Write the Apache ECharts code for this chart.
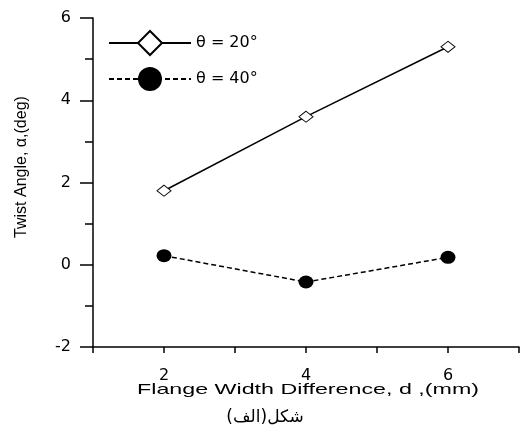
<!DOCTYPE html>
<html>
<head>
<meta charset="utf-8">
<script src="https://cdn.jsdelivr.net/npm/echarts@6/dist/echarts.min.js"></script>
<style>html,body{margin:0;padding:0;background:#fff}#chart{width:522px;height:432px}</style>
</head>
<body>
<div id="chart"></div>
<script>
const seriesNames = ['θ = 20°', 'θ = 40°'];
const xValues = [2, 4, 6];
const theta20 = [1.8, 3.6, 5.3];
const theta40 = [0.22, -0.42, 0.18];
const xTickLabels = ['2', '4', '6'];
const yTickLabels = ['-2', '0', '2', '4', '6'];
const xTitle = 'Flange Width Difference, d ,(mm)';
const yTitle = 'Twist Angle, α,(deg)';
const caption = 'شکل(الف)';

const chart = echarts.init(document.getElementById('chart'));
const pair = (ys) => xValues.map((x, i) => [x, ys[i]]);
const black = '#000';
const tickFont = 'DejaVu Sans';

chart.setOption({
  animation: false,
  backgroundColor: '#fff',
  grid: { left: 93, top: 18, width: 430, height: 329, containLabel: false },
  xAxis: {
    type: 'value', min: 1, max: 7, interval: 1,
    axisLine: { show: true, onZero: false, lineStyle: { color: black, width: 1.5 } },
    axisTick: { show: true, length: 6, lineStyle: { color: black, width: 1.5 } },
    axisLabel: {
      color: black, fontSize: 16, fontFamily: tickFont, margin: 21,
      formatter: (v) => xTickLabels.includes(String(v)) ? String(v) : ''
    },
    splitLine: { show: false }
  },
  yAxis: {
    type: 'value', min: -2, max: 6, interval: 2,
    axisLine: { show: true, onZero: false, lineStyle: { color: black, width: 1.5 } },
    axisTick: { show: true, length: 13, lineStyle: { color: black, width: 1.5 } },
    minorTick: { show: true, splitNumber: 2, length: 8, lineStyle: { color: black, width: 1.5 } },
    axisLabel: {
      color: black, fontSize: 16, fontFamily: tickFont, margin: 22,
      formatter: (v) => yTickLabels.includes(String(v)) ? String(v) : ''
    },
    splitLine: { show: false }
  },
  legend: {
    orient: 'vertical', left: 108, top: 30, padding: 0,
    itemWidth: 82, itemHeight: 30, itemGap: 11,
    textStyle: { color: black, fontSize: 16, fontFamily: tickFont },
    data: seriesNames
  },
  series: [
    {
      name: seriesNames[0], type: 'line', data: pair(theta20),
      symbol: 'diamond', symbolSize: [14, 11],
      itemStyle: { color: '#fff', borderColor: black, borderWidth: 1 },
      lineStyle: { color: black, width: 1.5 }
    },
    {
      name: seriesNames[1], type: 'line', data: pair(theta40),
      symbol: 'circle', symbolSize: [15, 13],
      itemStyle: { color: black, borderColor: black, borderWidth: 0 },
      lineStyle: { color: black, width: 1.5, type: [5, 3] }
    }
  ],
  graphic: [
    {
      type: 'text', x: 22, y: 167, rotation: Math.PI / 2,
      style: { text: yTitle, fill: black, font: '16px "Liberation Sans", Arial, sans-serif', align: 'center', verticalAlign: 'middle' }
    },
    {
      type: 'text', x: 308, y: 390, scaleX: 1.55,
      style: { text: xTitle, fill: black, font: '15px "Liberation Sans", Arial, sans-serif', align: 'center', verticalAlign: 'middle' }
    },
    {
      type: 'text', x: 265, y: 418,
      style: { text: caption, fill: black, font: '17px "DejaVu Sans", sans-serif', align: 'center', verticalAlign: 'middle' }
    }
  ]
});
</script>
</body>
</html>
